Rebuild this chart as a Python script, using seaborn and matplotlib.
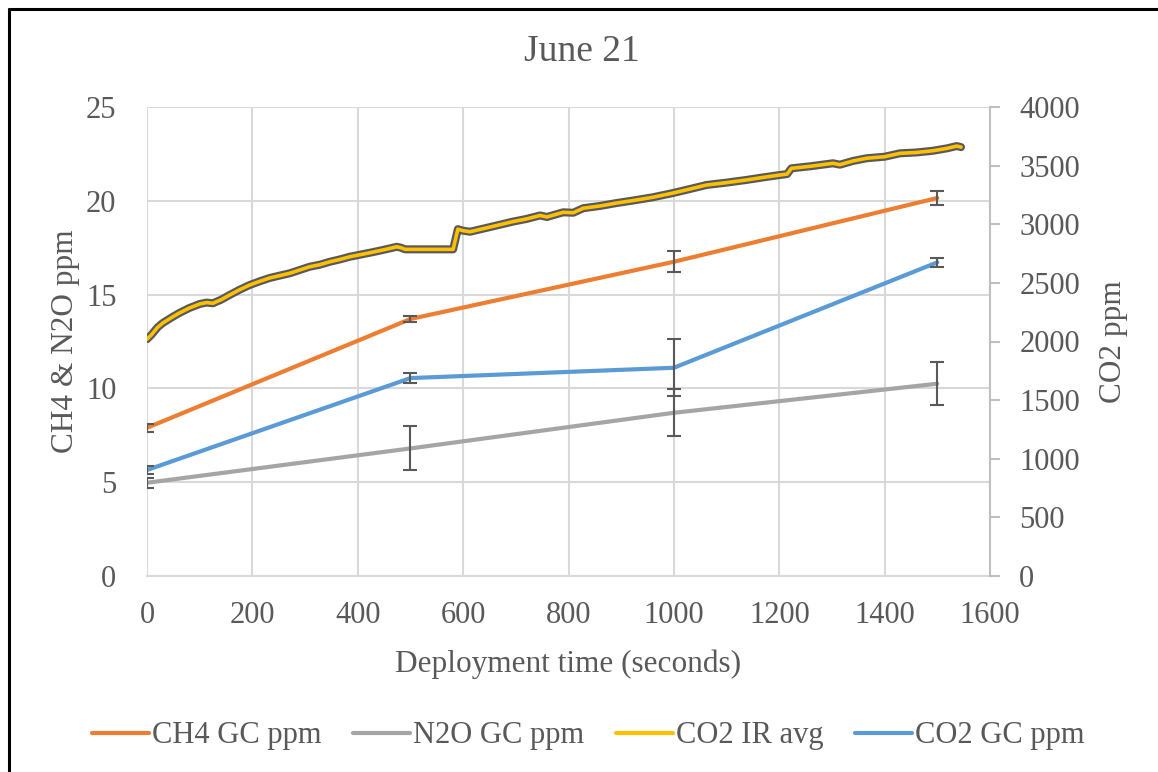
import numpy as np
import pandas as pd
import matplotlib.pyplot as plt
import matplotlib.patheffects as pe
from matplotlib.lines import Line2D
import seaborn as sns

# GC samples (left axis, CH4 & N2O; CO2 GC also plotted on left scale)
gc_time = [0, 500, 1000, 1500]
ch4_gc = [7.9, 13.7, 16.75, 20.15]
ch4_err = [0.2, 0.15, 0.55, 0.35]
n2o_gc = [4.97, 6.8, 8.7, 10.25]
n2o_err = [0.27, 1.17, 1.25, 1.16]
co2_gc = [5.65, 10.55, 11.1, 16.72]
co2_gc_err = [0.2, 0.27, 1.52, 0.23]

# CO2 IR running average (right axis)
ir_time = [0, 8, 20, 30, 45, 60, 80, 100, 113, 125, 140, 157, 175, 195,
           215, 233, 250, 271, 290, 309, 328, 347, 366, 385, 404, 423,
           442, 461, 474, 482, 490, 530, 581, 590, 600, 613, 650, 695,
           720, 746, 759, 790, 809, 828, 860, 890, 922, 960, 998, 1030,
           1062, 1100, 1138, 1170, 1201, 1215, 1223, 1260, 1302, 1315,
           1340, 1366, 1400, 1429, 1460, 1492, 1518, 1537, 1545]
ir_co2 = [2020, 2055, 2120, 2158, 2200, 2240, 2285, 2320, 2332, 2326, 2355,
          2397, 2440, 2482, 2515, 2542, 2560, 2582, 2610, 2638, 2655, 2680,
          2700, 2723, 2740, 2757, 2775, 2794, 2808, 2800, 2786, 2786, 2786,
          2958, 2945, 2936, 2975, 3023, 3045, 3075, 3062, 3102, 3098, 3137,
          3156, 3180, 3202, 3230, 3266, 3300, 3335, 3355, 3378, 3400, 3420,
          3428, 3477, 3495, 3520, 3508, 3540, 3563, 3576, 3605, 3612, 3627,
          3647, 3667, 3658]

text_color = "#595959"
grid_color = "#D9D9D9"

sns.set_theme(style="white")
plt.rcParams["font.family"] = ["Liberation Serif", "DejaVu Serif"]
plt.rcParams["text.color"] = text_color
plt.rcParams["axes.labelcolor"] = text_color
plt.rcParams["xtick.color"] = text_color
plt.rcParams["ytick.color"] = text_color

fig = plt.figure(figsize=(11.58, 7.72), dpi=100)
ax = fig.add_axes([147 / 1158, 1 - 576 / 772, (990 - 147) / 1158, (576 - 107) / 772])
ax2 = ax.twinx()

gc = pd.DataFrame({"time": gc_time, "ch4": ch4_gc, "n2o": n2o_gc, "co2": co2_gc})
ir = pd.DataFrame({"time": ir_time, "co2": ir_co2})

sns.lineplot(data=gc, x="time", y="ch4", ax=ax, color="#ED7D31", lw=3, label="CH4 GC ppm")
sns.lineplot(data=gc, x="time", y="n2o", ax=ax, color="#A5A5A5", lw=3, label="N2O GC ppm")
sns.lineplot(data=ir, x="time", y="co2", ax=ax2, color="#FFC000", lw=2.6, sort=False,
             label="CO2 IR avg",
             path_effects=[pe.Stroke(linewidth=5.8, foreground="#595959"), pe.Normal()])
sns.lineplot(data=gc, x="time", y="co2", ax=ax, color="#5B9BD5", lw=3, label="CO2 GC ppm")

for vals, errs in [(ch4_gc, ch4_err), (n2o_gc, n2o_err), (co2_gc, co2_gc_err)]:
    ax.errorbar(gc_time, vals, yerr=errs, fmt="none", ecolor="#595959",
                elinewidth=1.5, capsize=5, capthick=1.5, zorder=5)

ax.set_xlim(0, 1600)
ax.set_ylim(0, 25)
ax.set_xticks(range(0, 1601, 200))
ax.set_yticks(range(0, 26, 5))
ax2.set_ylim(0, 4000)
ax2.set_yticks(range(0, 4001, 500))

ax.grid(True, color=grid_color, lw=1.5)
ax.set_axisbelow(True)
for a in (ax, ax2):
    for s in a.spines.values():
        s.set_visible(False)
ax2.spines["right"].set_visible(True)
ax2.spines["right"].set_color("#BFBFBF")
ax2.spines["right"].set_linewidth(1.5)
ax.spines["bottom"].set_visible(True)
ax.spines["bottom"].set_color(grid_color)
ax.spines["bottom"].set_linewidth(1.5)

ax.tick_params(axis="x", length=0, labelsize=22, pad=18)
ax.tick_params(axis="y", length=0, labelsize=22, pad=22)
ax2.tick_params(axis="y", length=7, width=1.5, color="#BFBFBF", labelsize=22, pad=14,
                direction="out")

ax.set_xlabel("Deployment time (seconds)", fontsize=22.5, labelpad=14)
ax.set_ylabel("CH4 & N2O ppm", fontsize=22.5, labelpad=4)
ax2.set_ylabel("CO2 ppm", fontsize=22.5, labelpad=14)
fig.text(582 / 1158, 1 - 52 / 772, "June 21", fontsize=27, color=text_color,
         ha="center", va="center")

h1, l1 = ax.get_legend_handles_labels()
h2, l2 = ax2.get_legend_handles_labels()
ax.get_legend().remove()
ax2.get_legend().remove()
handles = [h1[0], h1[1], Line2D([], [], color="#FFC000", lw=3), h1[2]]
labels = [l1[0], l1[1], l2[0], l1[2]]
fig.legend(handles, labels, loc="center", bbox_to_anchor=(0.508, 1 - 736 / 772),
           ncol=4, frameon=False, fontsize=22, handlelength=1.85, handletextpad=0.1,
           columnspacing=1.05)

# outer frame (left and top edges)
fig.add_artist(Line2D([9 / 1158, 9 / 1158], [0, 1 - 9 / 772], color="black", lw=2.2,
                      transform=fig.transFigure))
fig.add_artist(Line2D([9 / 1158, 1], [1 - 9 / 772, 1 - 9 / 772], color="black", lw=2.2,
                      transform=fig.transFigure))

fig.savefig("out.png", dpi=100)
